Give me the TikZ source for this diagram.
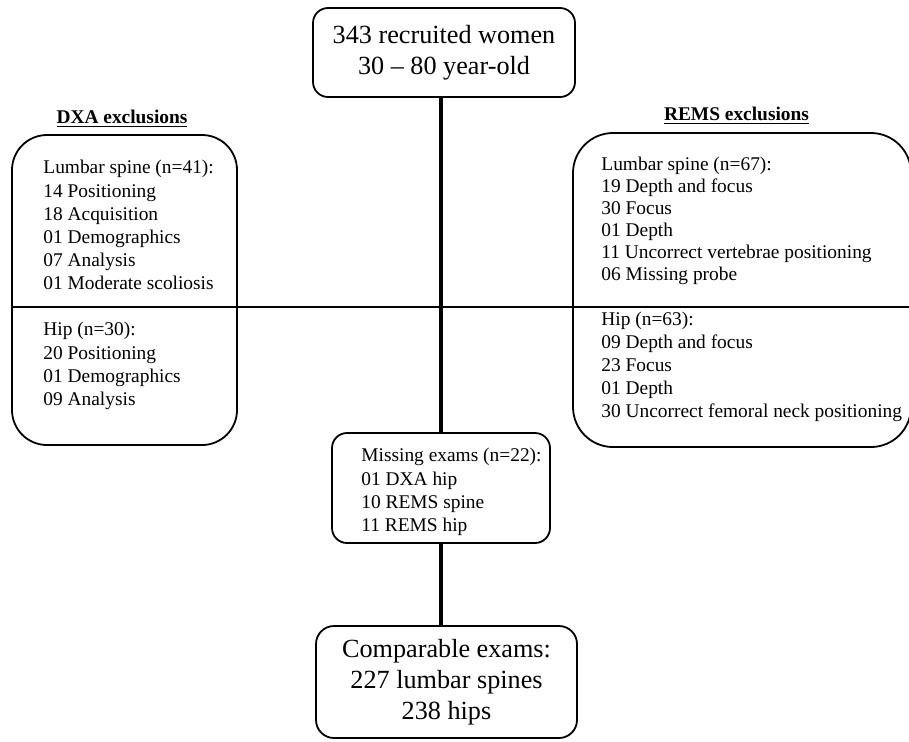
\documentclass[tikz,border=0pt]{standalone}
\usepackage{fontspec}
\setmainfont{Liberation Serif}
\usepackage{tikz}
\usetikzlibrary{positioning,calc}

\tikzset{
    flowbox/.style={draw, line width=0.9pt, rounded corners=#1, inner sep=0pt, align=center,
        font=\fontsize{13.1}{15.5}\selectfont},
    flowbox/.default=7.5pt,
    sidebox/.style={draw, line width=0.9pt, rounded corners=#1, inner sep=0pt},
    listtext/.style={anchor=north west, inner sep=0pt, align=left,
        font=\fontsize{9.7}{#1}\selectfont},
    listtext/.default=11.6pt,
    heading/.style={anchor=base, inner sep=0pt, font=\fontsize{9.7}{11.6}\selectfont\bfseries},
    stem/.style={line width=2pt}
}

\begin{document}
\begin{tikzpicture}[x=0.5pt, y=-0.5pt]
    \useasboundingbox (0,0) rectangle (909,741);

    % Main flow
    \node[flowbox, minimum width=131pt, minimum height=44.5pt] (recruit) at (444,52.5)
        {343 recruited women\\30 -- 80 year-old};
    \node[flowbox, minimum width=109pt, minimum height=55pt] (miss) at (441,488) {};
    \node[flowbox=9pt, minimum width=130.5pt, minimum height=56pt] (comp) at (446.5,682)
        {Comparable exams:\\227 lumbar spines\\238 hips};

    % Side boxes
    \node[sidebox=17.5pt, minimum width=112.5pt, minimum height=155pt] (dxa) at (124.5,290) {};
    \node[sidebox=20pt, minimum width=169pt, minimum height=157pt] (rems) at (742,290) {};

    % Headings
    \node[heading] (dxatitle) at (122,123) {\underline{DXA exclusions}};
    \node[heading] (remstitle) at (736.5,120) {\underline{REMS exclusions}};

    % Box contents
    \node[listtext] (dxaspine) at (43,160) {Lumbar spine (n=41):\\14 Positioning\\18 Acquisition\\
        01 Demographics\\07 Analysis\\01 Moderate scoliosis};
    \node[listtext] (dxahip) at (43,322) {Hip (n=30):\\20 Positioning\\01 Demographics\\09 Analysis};
    \node[listtext=11pt] (remsspine) at (601,157) {Lumbar spine (n=67):\\19 Depth and focus\\30 Focus\\
        01 Depth\\11 Uncorrect vertebrae positioning\\06 Missing probe};
    \node[listtext=11.5pt] (remship) at (601,312) {Hip (n=63):\\09 Depth and focus\\23 Focus\\
        01 Depth\\30 Uncorrect femoral neck positioning};
    \node[listtext] (misstext) at (361,448) {Missing exams (n=22):\\01 DXA hip\\10 REMS spine\\11 REMS hip};

    % Connectors
    \coordinate (edge) at (909,307);
    \draw[line width=0.75pt] (dxa.west |- edge) -- (edge);
    \draw[stem] (miss.north |- recruit.south) -- (miss.north);
    \draw[stem] (miss.south) -- (miss.south |- comp.north);
\end{tikzpicture}
\end{document}
